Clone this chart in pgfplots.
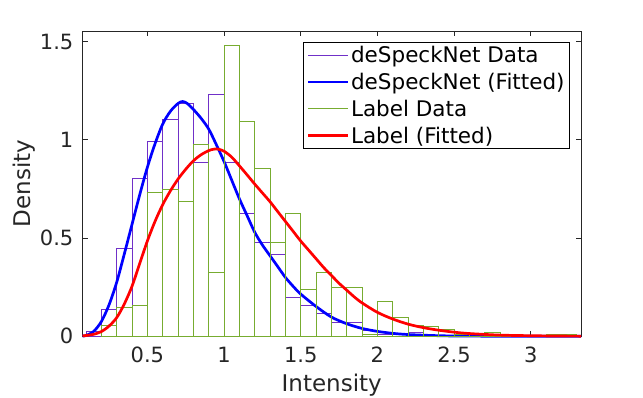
\documentclass[border=0pt]{standalone}
\usepackage{pgfplots}
\pgfplotsset{compat=1.18}
\usepackage{fontspec}
\setmainfont{DejaVu Sans}

\definecolor{hpurple}{RGB}{112,48,200}
\definecolor{hgreen}{RGB}{119,172,48}
\definecolor{axgray}{RGB}{38,38,38}

\begin{document}
\begin{tikzpicture}
\useasboundingbox (0,0) rectangle (643pt,398pt);
\begin{axis}[
  at={(82.5pt,61.7pt)}, anchor=south west,
  scale only axis, width=498.5pt, height=305.3pt,
  xmin=0.077, xmax=3.328, ymin=0, ymax=1.554,
  xtick={0.5,1,1.5,2,2.5,3}, ytick={0,0.5,1,1.5},
  clip=false,
  tick align=inside, tickpos=both, major tick length=5pt,
  axis line style={axgray, line width=0.8pt},
  tick style={axgray, line width=0.8pt},
  ticklabel style={font=\fontsize{21}{25}\selectfont, text=axgray},
  /pgf/number format/assume math mode=true,
  xticklabel style={anchor=base, yshift=-26.5pt},
  yticklabel style={anchor=east, inner sep=0pt, xshift=-9pt},
  label style={font=\fontsize{23}{27}\selectfont, text=axgray},
  xlabel={Intensity}, ylabel={Density},
  xlabel style={at={(axis description cs:0.5,-0.1815)}, anchor=base},
  ylabel style={at={(axis description cs:-0.1053,0.5)}, anchor=base},
  legend style={at={(1,1)}, anchor=north east, xshift=-11pt, yshift=-11pt,
    draw=black, line width=0.8pt, fill=white,
    font=\fontsize{21.5}{25}\selectfont, text=black,
    inner xsep=3.5pt, inner ysep=2.5pt, row sep=6pt,
    nodes={inner sep=1.5pt}},
  legend cell align=left,
  legend image code/.code={\draw[#1, line cap=butt] (0pt,0pt) -- (40pt,0pt);},
]

% deSpeckNet histogram (bin width 0.1)
\addplot[ybar interval, draw=hpurple, line width=1pt, forget plot] table {
0.1 0.025
0.2 0.137
0.3 0.446
0.4 0.804
0.5 0.992
0.6 1.104
0.7 1.184
0.8 0.883
0.9 1.233
1.0 0.883
1.1 0.626
1.2 0.476
1.3 0.417
1.4 0.198
1.5 0.157
1.6 0.117
1.7 0.069
1.8 0.069
1.9 0.032
2.0 0.010
2.1 0.000
2.2 0.017
2.3 0.005
2.4 0.005
2.5 0
};
\addlegendimage{hpurple, line width=1pt}
\addlegendentry{deSpeckNet Data}

\addplot[blue, line width=2.7pt, smooth] table {
0.077 0.001
0.10 0.004
0.15 0.025
0.20 0.075
0.25 0.160
0.30 0.275
0.35 0.420
0.40 0.570
0.45 0.720
0.50 0.860
0.55 0.980
0.60 1.080
0.65 1.145
0.70 1.185
0.73 1.195
0.76 1.185
0.80 1.155
0.85 1.110
0.90 1.055
0.95 0.975
1.00 0.890
1.05 0.795
1.10 0.700
1.15 0.615
1.20 0.530
1.25 0.465
1.30 0.410
1.35 0.355
1.40 0.300
1.45 0.255
1.50 0.215
1.60 0.152
1.70 0.098
1.80 0.064
1.90 0.040
2.00 0.025
2.10 0.015
2.20 0.009
2.40 0.003
2.60 0.001
3.00 0.0001
3.328 0
};
\addlegendentry{deSpeckNet (Fitted)}

% Label histogram
\addplot[ybar interval, draw=hgreen, line width=1pt, forget plot] table {
0.2 0.057
0.3 0.148
0.4 0.158
0.5 0.734
0.6 0.745
0.7 0.685
0.8 0.974
0.9 0.327
1.0 1.482
1.1 1.092
1.2 0.853
1.3 0.476
1.4 0.626
1.5 0.239
1.6 0.326
1.7 0.247
1.8 0.247
1.9 0.008
2.0 0.176
2.1 0.097
2.2 0.055
2.3 0.050
2.4 0.037
2.5 0.010
2.6 0.010
2.7 0.020
2.8 0.000
2.9 0.000
3.0 0.000
3.1 0.010
3.2 0.010
3.3 0
};
\addlegendimage{hgreen, line width=1pt}
\addlegendentry{Label Data}

\addplot[red, line width=2.7pt, smooth] table {
0.077 0.002
0.10 0.004
0.15 0.010
0.20 0.024
0.25 0.052
0.30 0.095
0.35 0.165
0.40 0.255
0.45 0.370
0.50 0.485
0.55 0.585
0.60 0.670
0.65 0.740
0.70 0.800
0.75 0.850
0.80 0.893
0.85 0.924
0.90 0.945
0.93 0.952
0.96 0.953
1.00 0.942
1.05 0.912
1.10 0.868
1.15 0.822
1.20 0.775
1.25 0.730
1.30 0.685
1.35 0.635
1.40 0.585
1.45 0.535
1.50 0.485
1.55 0.440
1.60 0.395
1.65 0.350
1.70 0.310
1.75 0.270
1.80 0.235
1.85 0.200
1.90 0.170
2.00 0.122
2.10 0.088
2.20 0.062
2.30 0.044
2.40 0.031
2.50 0.021
2.60 0.014
2.80 0.006
3.00 0.003
3.20 0.0012
3.328 0.0007
};
\addlegendentry{Label (Fitted)}

\end{axis}
\end{tikzpicture}
\end{document}
